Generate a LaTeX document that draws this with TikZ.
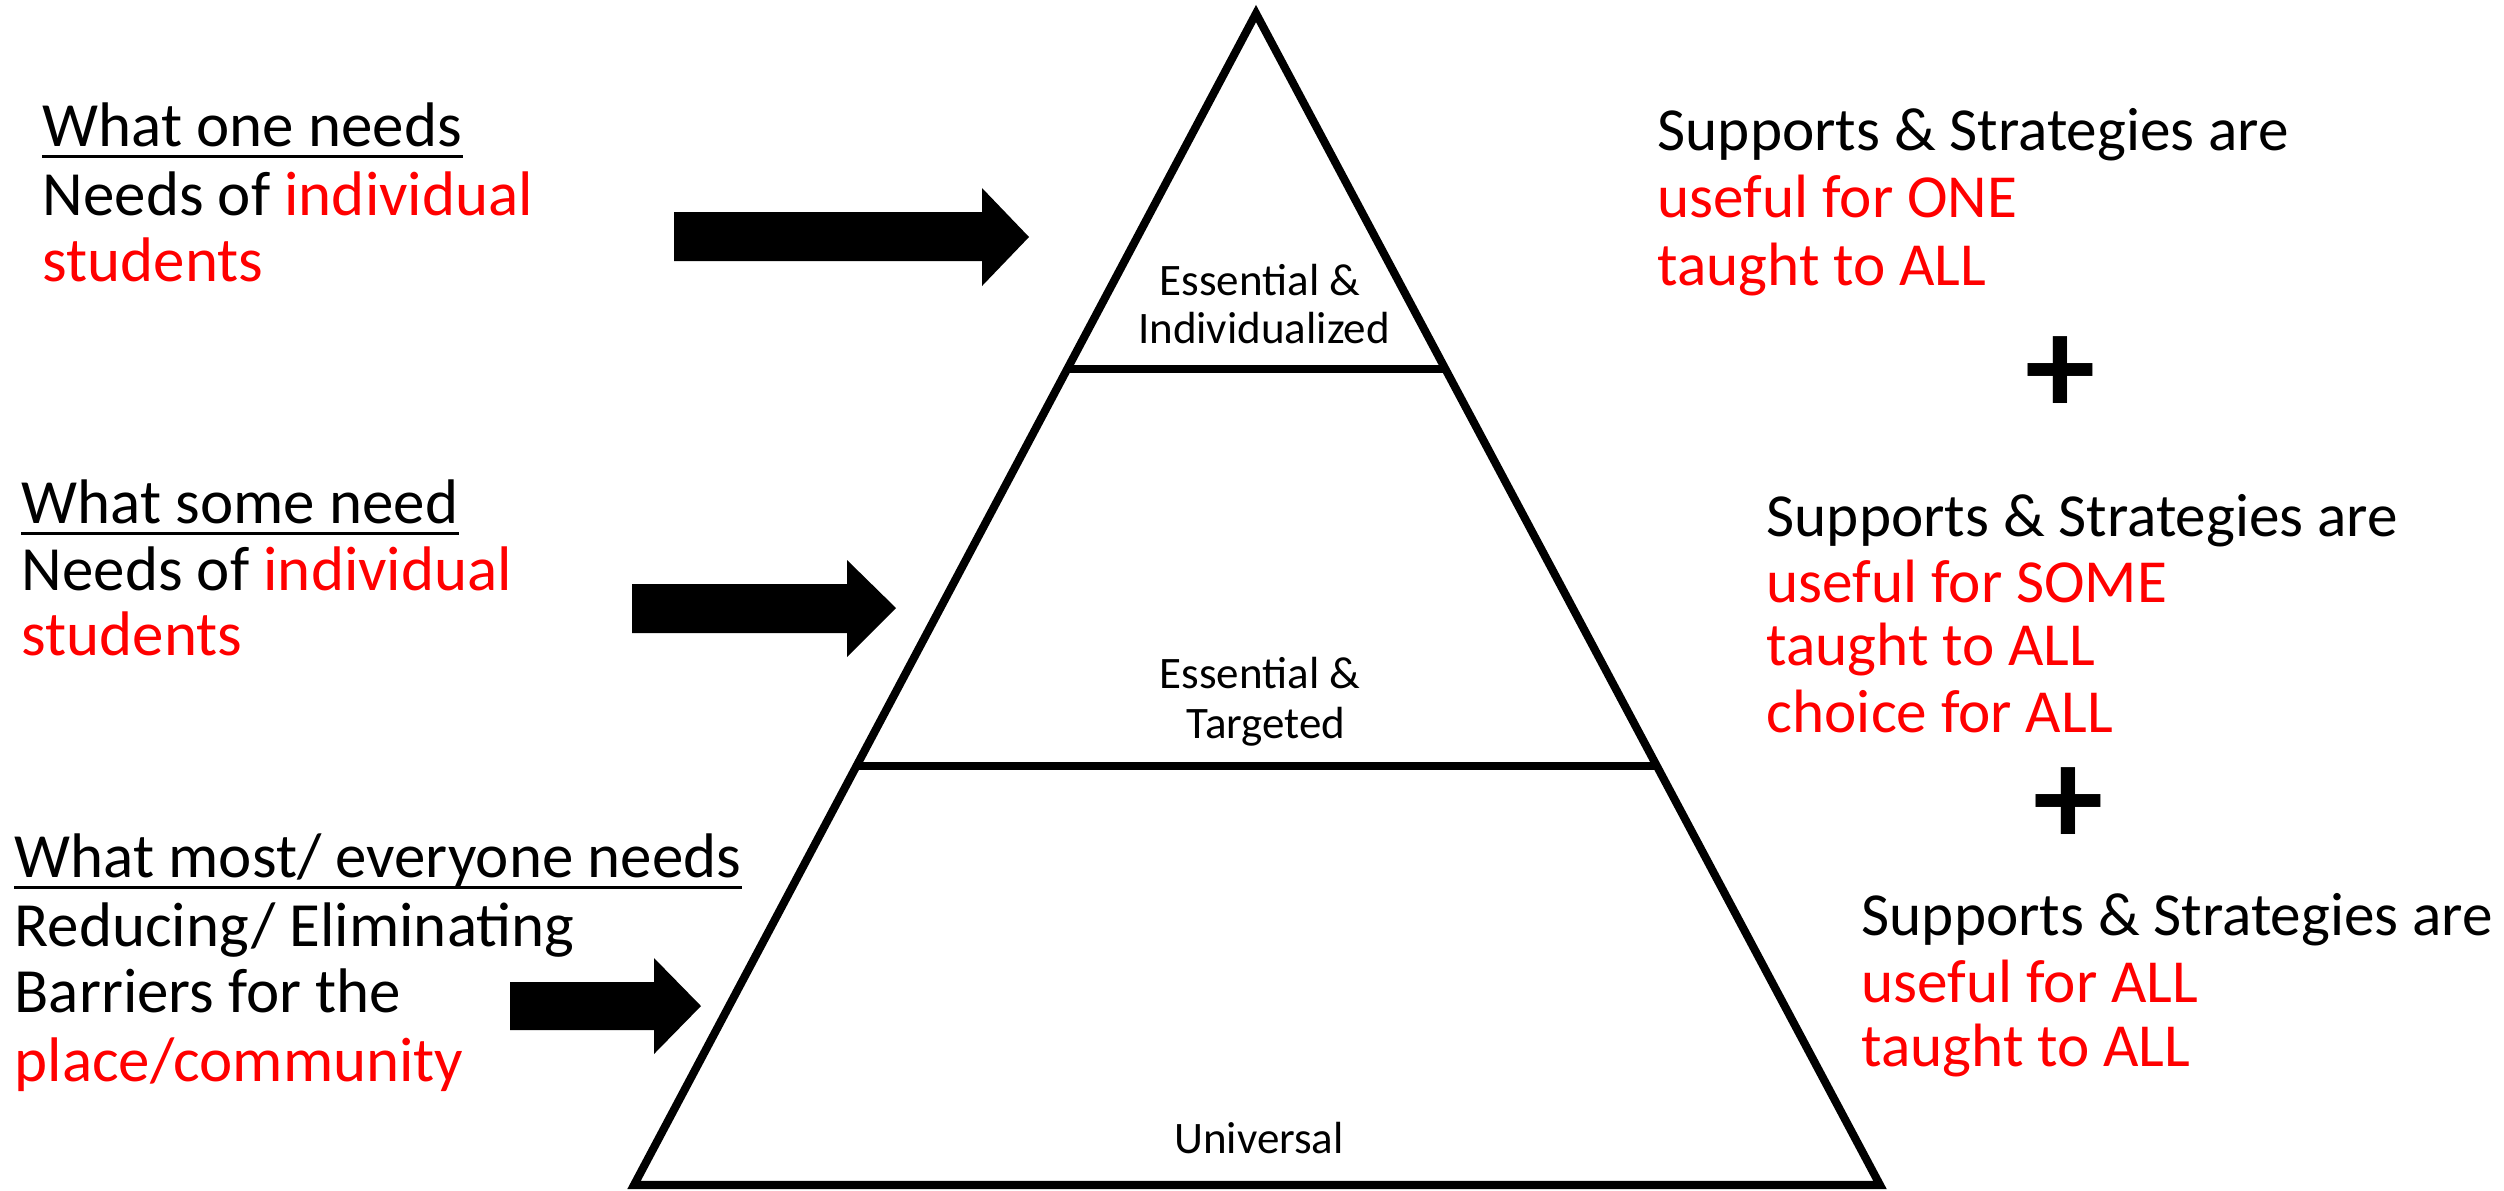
\documentclass[tikz,border=0pt]{standalone}
\usepackage{fontspec}
\setmainfont{Carlito}
\usetikzlibrary{calc}
\definecolor{redtxt}{RGB}{255,0,0}
\tikzset{
  lefttxt/.style={anchor=base west, inner sep=0pt, font=\fontsize{17.9}{20}\selectfont},
  righttxt/.style={anchor=base west, inner sep=0pt, font=\fontsize{17.4}{20}\selectfont},
  tiertxt/.style={anchor=base, inner sep=0pt, font=\fontsize{12.8}{14}\selectfont},
  plustxt/.style={inner sep=0pt, font=\fontsize{40}{44}\selectfont\bfseries},
  pyr/.style={line width=2.3pt, line join=miter},
  uline/.style={line width=0.85pt},
  blockarrow/.style={fill=black}
}
\begin{document}
\begin{tikzpicture}[x=0.01cm, y=-0.01cm]
\useasboundingbox[fill=white] (0,0) rectangle (2504,1190);

% pyramid
\coordinate (apex) at (1256,13.5);
\coordinate (bl) at (634,1185);
\coordinate (br) at (1880,1185);
\draw[pyr] (apex) -- (bl) -- (br) -- cycle;
\coordinate (t1l) at ($(apex)!0.3034!(bl)$);
\coordinate (t1r) at ($(apex)!0.3034!(br)$);
\coordinate (t2l) at ($(apex)!0.6423!(bl)$);
\coordinate (t2r) at ($(apex)!0.6423!(br)$);
\draw[pyr] (t1l) -- (t1r);
\draw[pyr] (t2l) -- (t2r);

% tier labels
\node[tiertxt] (e1) at (1260,295) {Essential \&};
\node[tiertxt] (e2) at (1264,343) {Individualized};
\node[tiertxt] (t1) at (1260,688) {Essential \&};
\node[tiertxt] (t2) at (1266,738) {Targeted};
\node[tiertxt] (u1) at (1259,1153) {Universal};

% left block 1
\node[lefttxt] (l1a) at (42,146) {What one needs};
\node[lefttxt] (l1b) at (42,215) {Needs of \textcolor{redtxt}{individual}};
\node[lefttxt] (l1c) at (42,281) {\textcolor{redtxt}{students}};
\draw[uline] ($(l1a.base west)+(0,10)$) -- ($(l1a.base east)+(0,10)$);

% left block 2
\node[lefttxt] (l2a) at (21,523) {What some need};
\node[lefttxt] (l2b) at (21,590) {Needs of \textcolor{redtxt}{individual}};
\node[lefttxt] (l2c) at (21,655) {\textcolor{redtxt}{students}};
\draw[uline] ($(l2a.base west)+(0,10)$) -- ($(l2a.base east)+(0,10)$);

% left block 3
\node[lefttxt] (l3a) at (14,877) {What most/ everyone needs};
\node[lefttxt] (l3b) at (14,946) {Reducing/ Eliminating};
\node[lefttxt] (l3c) at (14,1012) {Barriers for the};
\node[lefttxt] (l3d) at (14,1081) {\textcolor{redtxt}{place/community}};
\draw[uline] ($(l3a.base west)+(0,10)$) -- ($(l3a.base east)+(0,10)$);

% block arrows
\fill[blockarrow] (674,212) -- (982,212) -- (982,188) -- (1029,237) -- (982,286) -- (982,261) -- (674,261) -- cycle;
\fill[blockarrow] (632,584) -- (847,584) -- (847,560) -- (896,608) -- (847,657) -- (847,633) -- (632,633) -- cycle;
\fill[blockarrow] (510,982) -- (654,982) -- (654,958) -- (701,1006) -- (654,1054) -- (654,1030) -- (510,1030) -- cycle;

% right block 1
\node[righttxt] (r1a) at (1657,150) {Supports \& Strategies are};
\node[righttxt] (r1b) at (1657,217) {\textcolor{redtxt}{useful for ONE}};
\node[righttxt] (r1c) at (1657,285) {\textcolor{redtxt}{taught to ALL}};

\node[plustxt] (p1) at (2060,376) {+};

% right block 2
\node[righttxt] (r2a) at (1766,536) {Supports \& Strategies are};
\node[righttxt] (r2b) at (1766,602) {\textcolor{redtxt}{useful for SOME}};
\node[righttxt] (r2c) at (1766,665) {\textcolor{redtxt}{taught to ALL}};
\node[righttxt] (r2d) at (1766,732) {\textcolor{redtxt}{choice for ALL}};

\node[plustxt] (p2) at (2068,807) {+};

% right block 3
\node[righttxt] (r3a) at (1861,935) {Supports \& Strategies are};
\node[righttxt] (r3b) at (1861,1002) {\textcolor{redtxt}{useful for ALL}};
\node[righttxt] (r3c) at (1861,1066) {\textcolor{redtxt}{taught to ALL}};
\end{tikzpicture}
\end{document}
